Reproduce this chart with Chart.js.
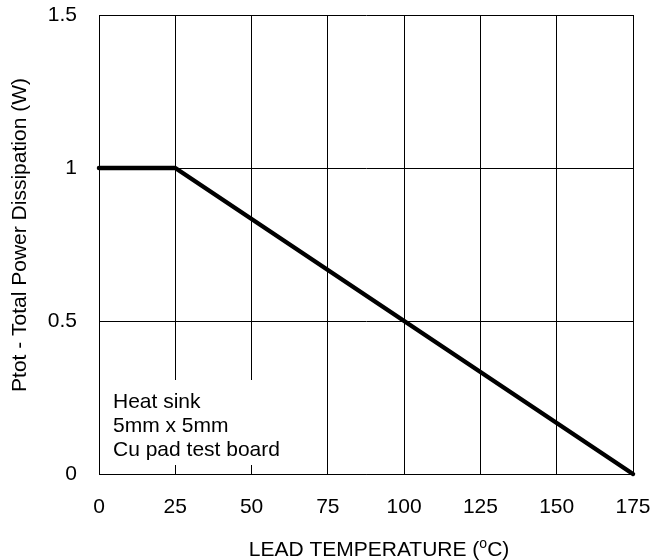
<!DOCTYPE html>
<html>
<head>
<meta charset="utf-8">
<script src="https://cdn.jsdelivr.net/npm/chart.js@4/dist/chart.umd.min.js"></script>
<style>
html,body{margin:0;padding:0;background:#fff;}
#wrap{width:664px;height:560px;}
</style>
</head>
<body>
<div id="wrap"><canvas id="c" width="664" height="560"></canvas></div>
<script>
const leadTemp = [0, 25, 175];
const powerW = [1, 1, 0];
const xTicks = [0, 25, 50, 75, 100, 125, 150, 175];
const yTicks = [0, 0.5, 1, 1.5];
const noteLines = ["Heat sink", "5mm x 5mm", "Cu pad test board"];
const xTitle = ["LEAD TEMPERATURE (", "o", "C)"];
const yTitle = "Ptot - Total Power Dissipation (W)";

const FONT = "Liberation Sans, Arial, sans-serif";
const FS = 21;

const textPlugin = {
  id: 'texts',
  beforeDatasetsDraw(chart) {
    const ctx = chart.ctx;
    const xs = chart.scales.x;
    ctx.save();
    const left = xs.left + 1;
    ctx.fillStyle = '#fff';
    ctx.fillRect(left, 380, 210, 85);
    ctx.fillStyle = '#000';
    ctx.font = FS + 'px ' + FONT;
    ctx.textAlign = 'left';
    ctx.textBaseline = 'alphabetic';
    noteLines.forEach((t, i) => ctx.fillText(t, 113, 408 + i * 24));
    ctx.restore();
  },
  afterDraw(chart) {
    const ctx = chart.ctx;
    ctx.save();
    ctx.fillStyle = '#000';
    ctx.textBaseline = 'alphabetic';
    const big = FS + 'px ' + FONT, small = '14px ' + FONT;
    ctx.font = big;
    const w0 = ctx.measureText(xTitle[0]).width;
    ctx.font = small;
    const w1 = ctx.measureText(xTitle[1]).width;
    ctx.font = big;
    const w2 = ctx.measureText(xTitle[2]).width;
    let x = 379 - (w0 + w1 + w2) / 2;
    const base = 556;
    ctx.textAlign = 'left';
    ctx.fillText(xTitle[0], x, base);
    x += w0;
    ctx.font = small;
    ctx.fillText(xTitle[1], x, base - 8);
    x += w1;
    ctx.font = big;
    ctx.fillText(xTitle[2], x, base);
    ctx.translate(20, 235);
    ctx.rotate(-Math.PI / 2);
    ctx.textAlign = 'center';
    ctx.textBaseline = 'middle';
    ctx.font = big;
    ctx.fillText(yTitle, 0, 0);
    ctx.restore();
  }
};

function zeroPad(s) {
  s.paddingTop = 0; s.paddingBottom = 0; s.paddingLeft = 0; s.paddingRight = 0;
}

new Chart(document.getElementById('c'), {
  type: 'line',
  data: {
    datasets: [{
      data: leadTemp.map((t, i) => ({x: t, y: powerW[i]})),
      borderColor: '#000',
      borderWidth: 4.5,
      pointRadius: 0,
      tension: 0,
      fill: false,
      borderJoinStyle: 'round',
      borderCapStyle: 'round',
      clip: false
    }]
  },
  options: {
    responsive: false,
    animation: false,
    devicePixelRatio: 1,
    layout: {autoPadding: false, padding: {top: 15, right: 31, left: 0, bottom: 0}},
    plugins: {legend: {display: false}, tooltip: {enabled: false}},
    scales: {
      x: {
        type: 'linear',
        min: 0, max: 175,
        afterBuildTicks(s) { s.ticks = xTicks.map(v => ({value: v})); },
        afterFit(s) { s.height = 86; zeroPad(s); },
        grid: {color: '#000', lineWidth: 1, drawTicks: false},
        border: {display: true, color: '#000', width: 1},
        ticks: {color: '#000', font: {family: FONT, size: FS}, padding: 21, maxRotation: 0}
      },
      y: {
        type: 'linear',
        min: 0, max: 1.5,
        afterBuildTicks(s) { s.ticks = yTicks.map(v => ({value: v})); },
        afterFit(s) { s.width = 99; zeroPad(s); },
        grid: {color: '#000', lineWidth: 1, drawTicks: false},
        border: {display: true, color: '#000', width: 1},
        ticks: {color: '#000', font: {family: FONT, size: FS}, padding: 22,
          callback: v => String(v)}
      }
    }
  },
  plugins: [textPlugin]
});
</script>
</body>
</html>
